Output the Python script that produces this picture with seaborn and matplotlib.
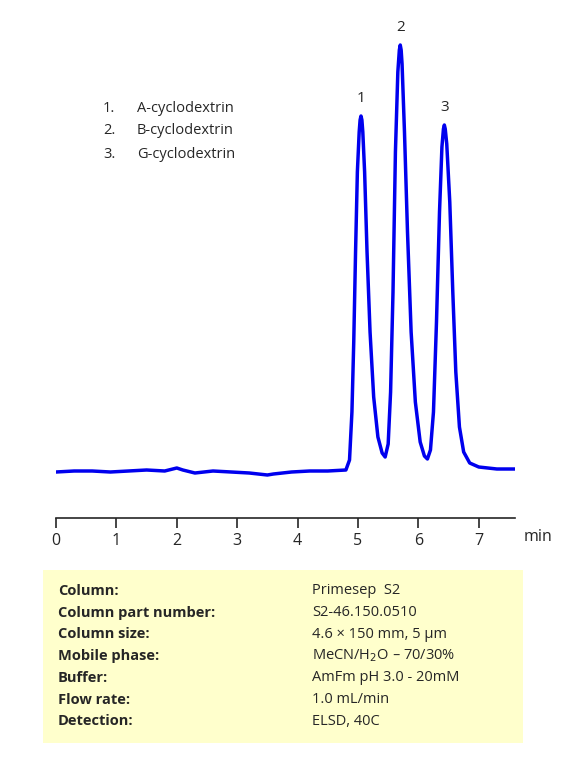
import pandas as pd
import matplotlib
matplotlib.use('Agg')
from matplotlib import pyplot as plt
import seaborn as sns

# trace (signal in arbitrary units above baseline)
time = [0.0, 0.3, 0.6, 0.9, 1.2, 1.5, 1.8, 2.0, 2.1, 2.3, 2.6, 2.9, 3.2, 3.5, 3.6, 3.9, 4.2, 4.5, 4.8,
        4.86, 4.9, 4.93, 4.96, 4.99, 5.02, 5.035, 5.05, 5.065, 5.08, 5.11, 5.15, 5.2, 5.26, 5.33, 5.4, 5.45,
        5.5, 5.54, 5.58, 5.62, 5.66, 5.685, 5.7, 5.715, 5.73, 5.77, 5.82, 5.88, 5.95, 6.03, 6.1, 6.15,
        6.2, 6.25, 6.3, 6.35, 6.39, 6.415, 6.43, 6.445, 6.47, 6.52, 6.57, 6.62, 6.68, 6.75, 6.85, 7.0,
        7.3, 7.6]
signal = [0, 1, 1, 0, 1, 2, 1, 4, 2, -1, 1, 0, -1, -3, -2, 0, 1, 1, 2,
          12, 60, 130, 220, 300, 340, 352, 356, 352, 340, 300, 220, 140, 75, 35, 19, 15,
          28, 80, 180, 320, 400, 422, 427, 422, 408, 340, 240, 140, 70, 30, 16, 13,
          22, 60, 150, 260, 325, 343, 347, 343, 328, 270, 180, 100, 45, 20, 9, 5, 3, 3]
peak_labels = ['1', '2', '3']
peak_times = [5.05, 5.7, 6.43]
peak_heights = [356, 427, 347]
compounds = ['A-cyclodextrin', 'B-cyclodextrin', 'G-cyclodextrin']
params = ['Column:', 'Column part number:', 'Column size:', 'Mobile phase:',
          'Buffer:', 'Flow rate:', 'Detection:']
values = ['Primesep  S2', 'S2-46.150.0510', '4.6 × 150 mm, 5 µm',
          'MeCN/H$_2$O – 70/30%', 'AmFm pH 3.0 - 20mM', '1.0 mL/min', 'ELSD, 40C']

sns.set_style('white')
plt.rcParams['font.family'] = ['Open Sans', 'DejaVu Sans']

fig = plt.figure(figsize=(5.81, 7.79), dpi=100)
ax = fig.add_axes([56 / 581, 1 - 518 / 779, (515 - 56) / 581, 488 / 779])
data = pd.DataFrame({'time': time, 'signal': signal})
sns.lineplot(data=data, x='time', y='signal', ax=ax, color='#0000EE', linewidth=2.5)
ax.set_xlim(0, 7.6)
ax.set_ylim(-46, 442)
for s in ['top', 'right', 'left']:
    ax.spines[s].set_visible(False)
ax.spines['bottom'].set_linewidth(1.2)
ax.set_yticks([])
ax.set_xticks(range(8))
ax.tick_params(axis='x', bottom=True, length=7, width=1.2, direction='out',
               labelsize=11.5, pad=4)
ax.set_xlabel('')
ax.set_ylabel('')
ax.text(7.72, 1 - 537 / 779, 'min', transform=ax.get_xaxis_transform() if False else fig.transFigure,
        fontsize=11.5, va='center')
for t in ax.texts:
    t.set_x(524 / 581)
for lab, t, h in zip(peak_labels, peak_times, peak_heights):
    ax.text(t, h + 10, lab, ha='center', va='bottom', fontsize=11)

for i, c in enumerate(compounds):
    y = 1 - (108 + 23 * i) / 779
    fig.text(103 / 581, y, f'{i + 1}.', fontsize=10.5, va='center')
    fig.text(137 / 581, y, c, fontsize=10.5, va='center')

box = plt.Rectangle((43 / 581, 1 - 743 / 779), 480 / 581, 173 / 779,
                    transform=fig.transFigure, facecolor='#FFFFCC', edgecolor='none')
fig.patches.append(box)
for i, (p, v) in enumerate(zip(params, values)):
    y = 1 - (591 + 21.7 * i) / 779
    fig.text(58 / 581, y, p, fontsize=10.5, fontweight='bold', va='center')
    fig.text(312 / 581, y, v, fontsize=10.5, va='center')

fig.savefig('out.png', dpi=100)
